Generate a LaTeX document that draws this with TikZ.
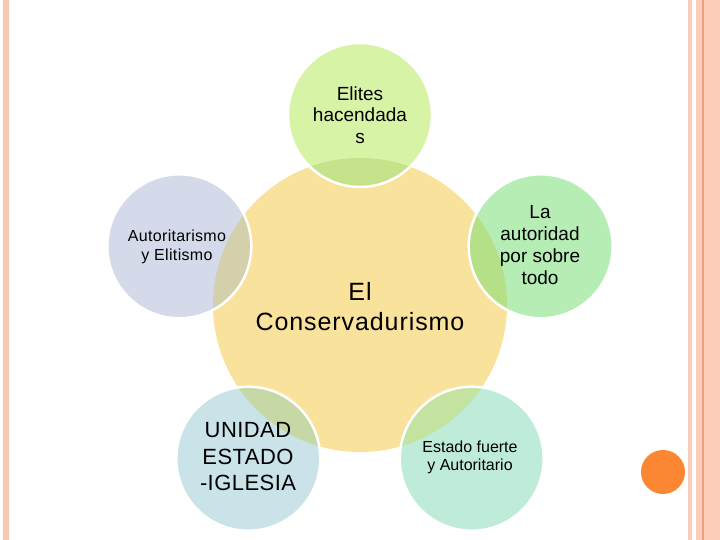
\documentclass[tikz,border=0pt]{standalone}
\usepackage{fontspec}
\setmainfont{Liberation Sans}
\newfontfamily\lsTwo[LetterSpace=2]{Liberation Sans}
\newfontfamily\lsFour[LetterSpace=3.7]{Liberation Sans}
\definecolor{stripeA}{RGB}{248,200,180}
\definecolor{stripeB}{RGB}{250,205,188}
\definecolor{stripeC}{RGB}{240,160,125}
\definecolor{stripeE}{RGB}{252,206,186}
\definecolor{bigcol}{RGB}{249,226,156}
\definecolor{elitecol}{RGB}{215,243,165}
\definecolor{eliteov}{RGB}{198,226,138}
\definecolor{autocol}{RGB}{213,218,234}
\definecolor{autoov}{RGB}{212,208,172}
\definecolor{lacol}{RGB}{181,237,181}
\definecolor{laov}{RGB}{182,224,135}
\definecolor{unicol}{RGB}{201,227,233}
\definecolor{uniov}{RGB}{197,216,165}
\definecolor{estcol}{RGB}{191,235,217}
\definecolor{estov}{RGB}{196,227,160}
\definecolor{dotcol}{RGB}{251,135,51}
\tikzset{
  ring/.style={draw=white, line width=2.5pt},
  lbl/.style={align=center, inner sep=0pt, text=black}
}
\begin{document}
\begin{tikzpicture}[x=1pt,y=-1pt]
\useasboundingbox (0,0) rectangle (720,540);
\fill[white] (0,0) rectangle (720,540);
% page border stripes
\fill[stripeA] (3,0) rectangle (9,540);
\fill[stripeB] (688,0) rectangle (692,540);
\fill[stripeB] (696,0) rectangle (720,540);
\fill[stripeC] (702,0) rectangle (703.5,540);
\fill[stripeE] (707,0) rectangle (720,540);
% orange dot
\fill[dotcol] (663,472) circle (22);
% centre circle
\coordinate (c) at (360,305);
\fill[bigcol] (c) circle (147);
% satellites
\coordinate (e) at (360,115);
\coordinate (a) at (179.3,246.3);
\coordinate (l) at (540.7,246.3);
\coordinate (u) at (248.3,458.7);
\coordinate (s) at (471.7,458.7);
\foreach \p/\col/\ov in {e/elitecol/eliteov, a/autocol/autoov, l/lacol/laov, u/unicol/uniov, s/estcol/estov}{
  \fill[\col] (\p) circle (72);
  \begin{scope}
    \clip (\p) circle (72);
    \fill[\ov] (c) circle (147);
  \end{scope}
  \draw[ring] (\p) circle (72);
}
% texts
\node[lbl, font=\lsFour\fontsize{25}{30}\selectfont] (tc) at (360,307) {El\\Conservadurismo};
\node[lbl, font=\fontsize{19}{21.5}\selectfont] (te) at (360,115) {Elites\\hacendada\\s};
\node[lbl, font=\lsTwo\fontsize{16}{19}\selectfont] (ta) at (177,247) {Autoritarismo\\y Elitismo};
\node[lbl, font=\fontsize{19}{22}\selectfont] (tl) at (540,245) {La\\autoridad\\por sobre\\todo};
\node[lbl, font=\lsTwo\fontsize{22}{26.5}\selectfont] (tu) at (248,457) {UNIDAD\\ESTADO\\-IGLESIA};
\node[lbl, font=\fontsize{16}{18}\selectfont] (ts) at (470,457) {Estado fuerte\\y Autoritario};
\end{tikzpicture}
\end{document}
